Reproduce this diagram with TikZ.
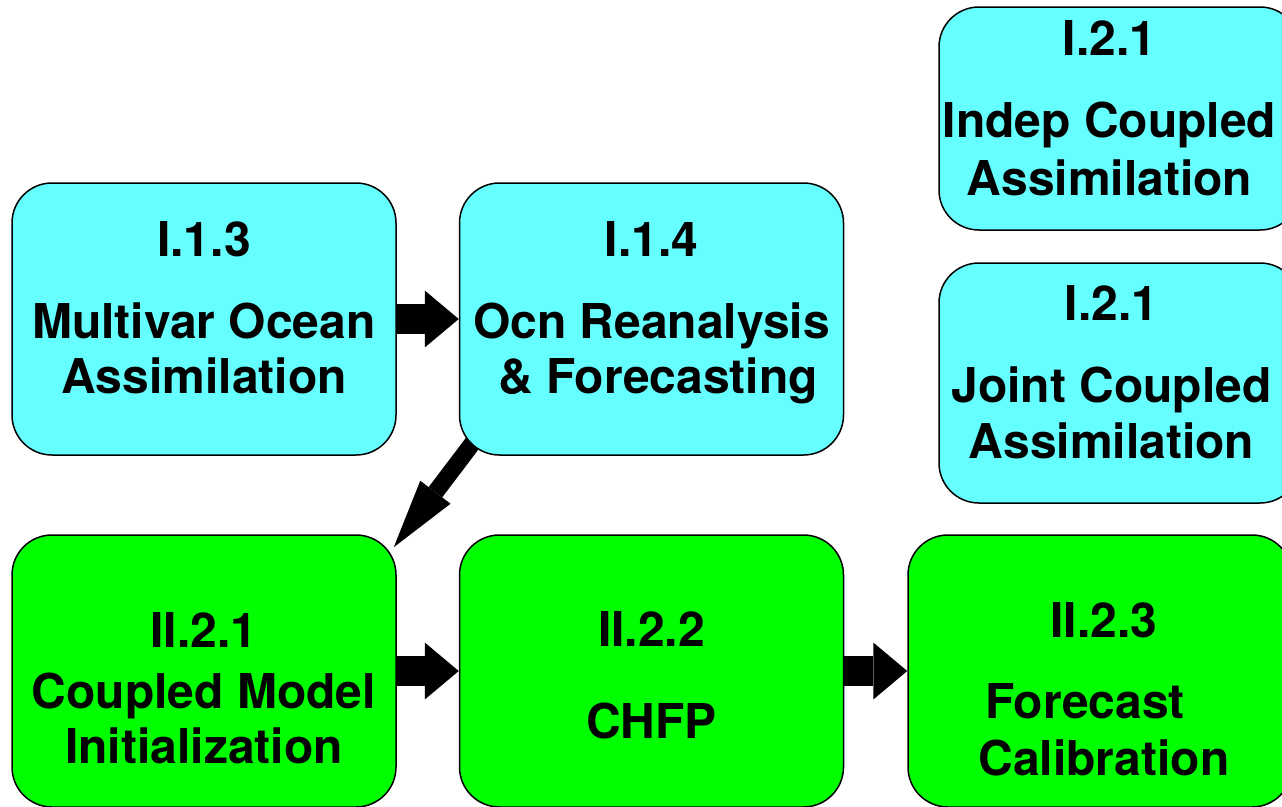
\documentclass[tikz,border=0pt]{standalone}
\usepackage{fontspec}
\setmainfont{TeX Gyre Heros}
\usetikzlibrary{positioning,arrows.meta,backgrounds}
\definecolor{ocncyan}{HTML}{66FFFF}
\definecolor{cplgreen}{HTML}{00FF00}
\newcommand{\boxfont}{\bfseries\fontsize{48}{55}\selectfont}
\begin{document}
\begin{tikzpicture}[x=1pt,y=-1pt,
    box/.style={draw,line width=1.5pt,rounded corners=40pt,minimum width=384pt,minimum height=272pt,inner sep=0pt},
    ocn/.style={box,fill=ocncyan},
    cpl/.style={box,fill=cplgreen},
    txt/.style={inner sep=0pt,align=center,font=\boxfont},
    fat/.style={line width=30pt,-{Triangle[length=34pt,width=57pt,line width=0pt]}},
    thin/.style={line width=17pt,-{Triangle[length=69pt,width=38pt,line width=0pt]}}]
                \useasboundingbox (0,0) rectangle (1282,806);
                % ocean boxes
                \node[ocn](i13) at (204,319){};
                \node[ocn](i14) at (651.5,319){};
                \node[ocn,minimum width=361pt,minimum height=223pt](i21a) at (1119.5,118.5){};
                \node[ocn,minimum width=361pt,minimum height=240pt](i21b) at (1119.5,383){};
                % coupled boxes
                \node[cpl](ii21) at (204,671){};
                \node[cpl](ii22) at (651.5,671){};
                \node[cpl](ii23) at (1100,671){};
                % texts
                \node[txt](i13t)[below=39pt of i13.north]{I.1.3\\[27pt]Multivar Ocean\\Assimilation};
                \node[txt](i14t)[below=39pt of i14.north]{I.1.4\\[27pt]Ocn Reanalysis\\\ \& Forecasting};
                \node[txt](i21at)[below=14pt of i21a.north,xshift=-10pt]{I.2.1\\[27pt]Indep Coupled\\[3pt]Assimilation};
                \node[txt](i21bt)[below=23pt of i21b.north,xshift=-8pt]{I.2.1\\[27pt]Joint Coupled\\[1pt]Assimilation};
                \node[txt](ii21t)[below=78pt of ii21.north]{II.2.1\\[6pt]Coupled Model\\Initialization};
                \node[txt](ii22t)[below=77pt of ii22.north]{II.2.2\\[37pt]CHFP};
                \node[txt](ii23t)[below=68pt of ii23.north,xshift=4pt]{II.2.3\\[26pt]Forecast\rule{38pt}{0pt}\\[2pt]Calibration};
                % arrows
                \draw[fat](i13.east) -- (i14.west);
                \draw[fat](ii21.east) -- (ii22.west);
                \draw[fat](ii22.east) -- (ii23.west);
                \begin{scope}[on background layer]
                \draw[thin]([shift={(30,-34)}]i14.south west) -- ([shift={(-3,13)}]ii21.north east);
                \end{scope}
            \end{tikzpicture}
\end{document}
